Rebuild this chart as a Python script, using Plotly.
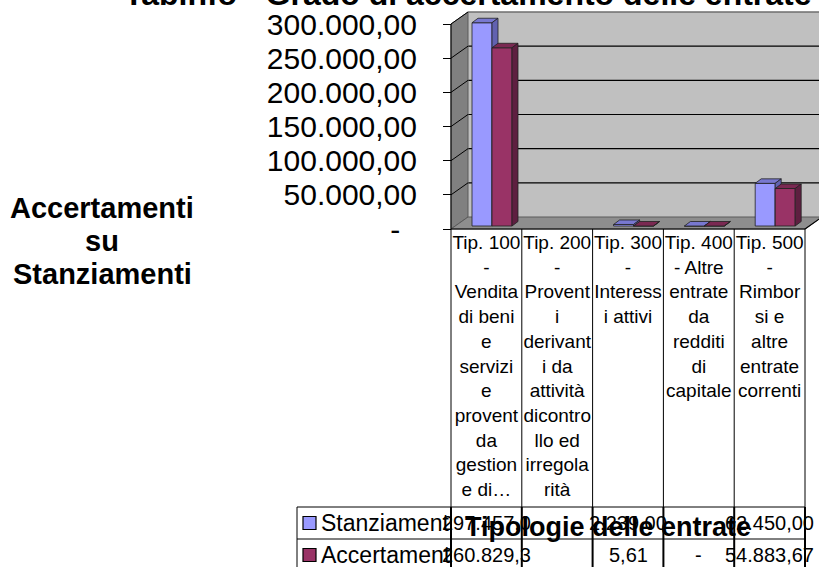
import plotly.graph_objects as go

# ---------------- data ----------------
category_labels = [
    "Tip. 100<br>-<br>Vendita<br>di beni<br>e<br>servizi<br>e<br>provent<br>da<br>gestion<br>e di…",
    "Tip. 200<br>-<br>Provent<br>i<br>derivant<br>i da<br>attività<br>dicontro<br>llo ed<br>irregola<br>rità",
    "Tip. 300<br>-<br>Interess<br>i attivi",
    "Tip. 400<br>- Altre<br>entrate<br>da<br>redditi<br>di<br>capitale",
    "Tip. 500<br>-<br>Rimbor<br>si e<br>altre<br>entrate<br>correnti",
]
series_names = ["Stanziamenti", "Accertamenti"]
stanziamenti = [297457.00, None, 2239.00, 0.0, 62450.00]
accertamenti = [260829.30, None, 5.61, 0.0, 54883.67]
table_row_labels = ["Stanziament", "Accertament"]
table_text_stanziamenti = ["297.457,0", "", "2.239,00", "-", "62.450,00"]
table_text_accertamenti = ["260.829,3", "", "5,61", "-", "54.883,67"]
y_tickvals = [0, 50000, 100000, 150000, 200000, 250000, 300000]
y_ticktext = ["-\u00a0\u00a0", "50.000,00", "100.000,00", "150.000,00",
              "200.000,00", "250.000,00", "300.000,00"]
title_text = "Tabinfo - Grado di accertamento delle entrate"
y_title_lines = ["Accertamenti", "su", "Stanziamenti"]
x_title_text = "Tipologie delle entrate"

# ---------------- layout geometry ----------------
W, H = 819, 567
X0 = 451.0          # front-left of plot (px)
CW = 70.8           # px per category
Y0 = 229.0          # front floor (px)
VS = 205.0 / 300000 # px per value unit
FONT = "Liberation Sans, Arial, sans-serif"

def px2x(p):
    return (p - X0) / CW

def py2v(p):
    return (Y0 - p) / VS

DX = 17 / CW        # wall depth
DV = 12 / VS
BASE = 3 / VS       # bar front face lift
BDX = 6 / CW        # bar depth
BDV = 4.5 / VS
BAR_W = 20 / CW
BAR_OFF = [21 / CW, 41 / CW]

ncat = len(category_labels)
front_cols = ["#9999FF", "#993366"]
top_cols = ["#7878D0", "#7A2952"]
side_cols = ["#6262B0", "#5E1F40"]
EDGE = "#222222"

fig = go.Figure()

for s, vals in enumerate([stanziamenti, accertamenti]):
    xs, ys = [], []
    for i, v in enumerate(vals):
        if v is None:
            continue
        xs.append(i + BAR_OFF[s] + BAR_W / 2)
        ys.append(v)
    fig.add_trace(go.Bar(
        x=xs, y=ys, base=BASE, width=BAR_W, name=series_names[s],
        marker=dict(color=front_cols[s], line=dict(color=EDGE, width=0.8)),
        showlegend=False, hoverinfo="skip", zorder=2 * s,
    ))
    tx, ty, sx, sy = [], [], [], []
    for i, v in enumerate(vals):
        if v is None:
            continue
        xl = i + BAR_OFF[s]
        xr = xl + BAR_W
        t = BASE + v
        tx += [xl, xr, xr + BDX, xl + BDX, xl, None]
        ty += [t, t, t + BDV, t + BDV, t, None]
        sx += [xr, xr, xr + BDX, xr + BDX, xr, None]
        sy += [BASE, t, t + BDV, BASE + BDV, BASE, None]
    fig.add_trace(go.Scatter(x=tx, y=ty, mode="lines", fill="toself",
                             fillcolor=top_cols[s], line=dict(color=EDGE, width=0.8),
                             showlegend=False, hoverinfo="skip", zorder=2 * s + 1))
    fig.add_trace(go.Scatter(x=sx, y=sy, mode="lines", fill="toself",
                             fillcolor=side_cols[s], line=dict(color=EDGE, width=0.8),
                             showlegend=False, hoverinfo="skip", zorder=2 * s + 1))

# invisible trace so the label axis is drawn
fig.add_trace(go.Scatter(x=[0], y=[0], yaxis="y2", mode="markers",
                         marker=dict(opacity=0), showlegend=False, hoverinfo="skip"))

shapes = []
VMAX = y_tickvals[-1]
# back wall
shapes.append(dict(type="rect", xref="x", yref="y", x0=DX, x1=ncat + DX + 1,
                   y0=DV, y1=VMAX + DV, fillcolor="#C0C0C0",
                   line=dict(width=0), layer="below"))
for v in y_tickvals[1:-1]:
    shapes.append(dict(type="line", xref="x", yref="y", x0=DX, x1=ncat + DX + 1,
                       y0=v + DV, y1=v + DV, line=dict(color="#000000", width=1.2),
                       layer="below"))
shapes.append(dict(type="line", xref="x", yref="y", x0=DX, x1=ncat + DX + 1,
                   y0=VMAX + DV, y1=VMAX + DV, line=dict(color="#6E6E6E", width=1.5),
                   layer="below"))
# left wall
shapes.append(dict(type="path", xref="x", yref="y",
                   path=f"M0,0 L0,{VMAX} L{DX},{VMAX + DV} L{DX},{DV} Z",
                   fillcolor="#808080", line=dict(color="#5A5A5A", width=1), layer="below"))
for v in y_tickvals[1:]:
    shapes.append(dict(type="line", xref="x", yref="y", x0=0, x1=DX,
                       y0=v, y1=v + DV, line=dict(color="#000000", width=1), layer="below"))
# floor
shapes.append(dict(type="path", xref="x", yref="y",
                   path=f"M0,0 L{ncat},0 L{ncat + DX},{DV} L{DX},{DV} Z",
                   fillcolor="#8E8E8E", line=dict(color="#5A5A5A", width=1), layer="below"))
shapes.append(dict(type="line", xref="x", yref="y", x0=0, x1=ncat, y0=0, y1=0,
                   line=dict(color="#000000", width=1.2)))
shapes.append(dict(type="line", xref="x", yref="y", x0=ncat, x1=ncat + DX, y0=0, y1=DV,
                   line=dict(color="#000000", width=1.2)))
# front value axis line
shapes.append(dict(type="line", xref="x", yref="y", x0=0, x1=0, y0=0, y1=VMAX,
                   line=dict(color="#000000", width=1)))

# category dividers + data table
TAB_TOP, TAB_MID, TAB_BOT = 507, 539, H + 2
TAB_LEFT = 297
for i in range(ncat + 1):
    shapes.append(dict(type="line", xref="x", yref="y", x0=i, x1=i,
                       y0=0, y1=py2v(TAB_TOP), line=dict(color="#000000", width=1)))
    shapes.append(dict(type="line", xref="x", yref="y", x0=i, x1=i,
                       y0=py2v(TAB_TOP), y1=py2v(TAB_BOT), line=dict(color="#000000", width=2)))
for yy in (TAB_TOP, TAB_MID):
    shapes.append(dict(type="line", xref="x", yref="y", x0=px2x(TAB_LEFT), x1=ncat,
                       y0=py2v(yy), y1=py2v(yy), line=dict(color="#000000", width=1)))
shapes.append(dict(type="line", xref="x", yref="y", x0=px2x(TAB_LEFT), x1=px2x(TAB_LEFT),
                   y0=py2v(TAB_TOP), y1=py2v(TAB_BOT), line=dict(color="#000000", width=1)))
row_centers = [523, 555]
for r, yc in enumerate(row_centers):
    shapes.append(dict(type="rect", xref="x", yref="y", x0=px2x(303), x1=px2x(316),
                       y0=py2v(yc + 6.5), y1=py2v(yc - 6.5), fillcolor=front_cols[r],
                       line=dict(color="#000000", width=1.2)))

annotations = []
annotations.append(dict(text=f"<b>{title_text}</b>", x=122 / W, y=1 + 6 / H,
                        xref="paper", yref="paper", xanchor="left", yanchor="middle",
                        showarrow=False, font=dict(family=FONT, size=32, color="#000")))
for line, yc in zip(y_title_lines, [208, 241, 274]):
    annotations.append(dict(text=f"<b>{line}</b>", x=px2x(102), y=py2v(yc),
                            xref="x", yref="y", xanchor="center", yanchor="middle",
                            showarrow=False, font=dict(family=FONT, size=29, color="#000")))
for r, (lab, texts) in enumerate(zip(table_row_labels,
                                     [table_text_stanziamenti, table_text_accertamenti])):
    yc = row_centers[r]
    annotations.append(dict(text=lab, x=px2x(319), y=py2v(yc), xref="x", yref="y",
                            xanchor="left", yanchor="middle", showarrow=False,
                            font=dict(family=FONT, size=23, color="#000")))
    for i, t in enumerate(texts):
        if not t:
            continue
        annotations.append(dict(text=t, x=i + 0.5, y=py2v(yc), xref="x", yref="y",
                                xanchor="center", yanchor="middle", showarrow=False,
                                font=dict(family=FONT, size=20, color="#000")))
annotations.append(dict(text=f"<b>{x_title_text}</b>", x=px2x(608), y=py2v(527),
                        xref="x", yref="y", xanchor="center", yanchor="middle",
                        showarrow=False, font=dict(family=FONT, size=27, color="#000")))

fig.update_layout(
    width=W, height=H, autosize=False,
    margin=dict(l=0, r=0, t=0, b=0, pad=0),
    paper_bgcolor="white", plot_bgcolor="white",
    barmode="overlay", showlegend=False,
    shapes=shapes, annotations=annotations,
    font=dict(family=FONT, color="#000"),
    xaxis=dict(domain=[0, 1], range=[px2x(0), px2x(W)], anchor="free",
               position=1 - Y0 / H, tickvals=[i + 0.5 for i in range(ncat)],
               ticktext=category_labels, tickangle=0, ticks="", showline=False,
               showgrid=False, zeroline=False, tickfont=dict(family=FONT, size=19)),
    yaxis=dict(domain=[0, 1], range=[py2v(H), py2v(0)], anchor="free",
               position=X0 / W, tickvals=y_tickvals, showticklabels=False,
               ticks="outside", ticklen=8, tickcolor="#000", tickwidth=1,
               showline=False, showgrid=False, zeroline=False),
    yaxis2=dict(domain=[0, 1], range=[py2v(H), py2v(0)], anchor="free",
                overlaying="y", side="left", position=417 / W,
                tickvals=y_tickvals, ticktext=y_ticktext, ticks="",
                showline=False, showgrid=False, zeroline=False,
                tickfont=dict(family=FONT, size=30)),
)

fig.write_html("out.html",
               config={"displayModeBar": False, "staticPlot": True},
               post_script="document.body.style.margin='0px';"
                           "document.body.style.overflow='hidden';")
